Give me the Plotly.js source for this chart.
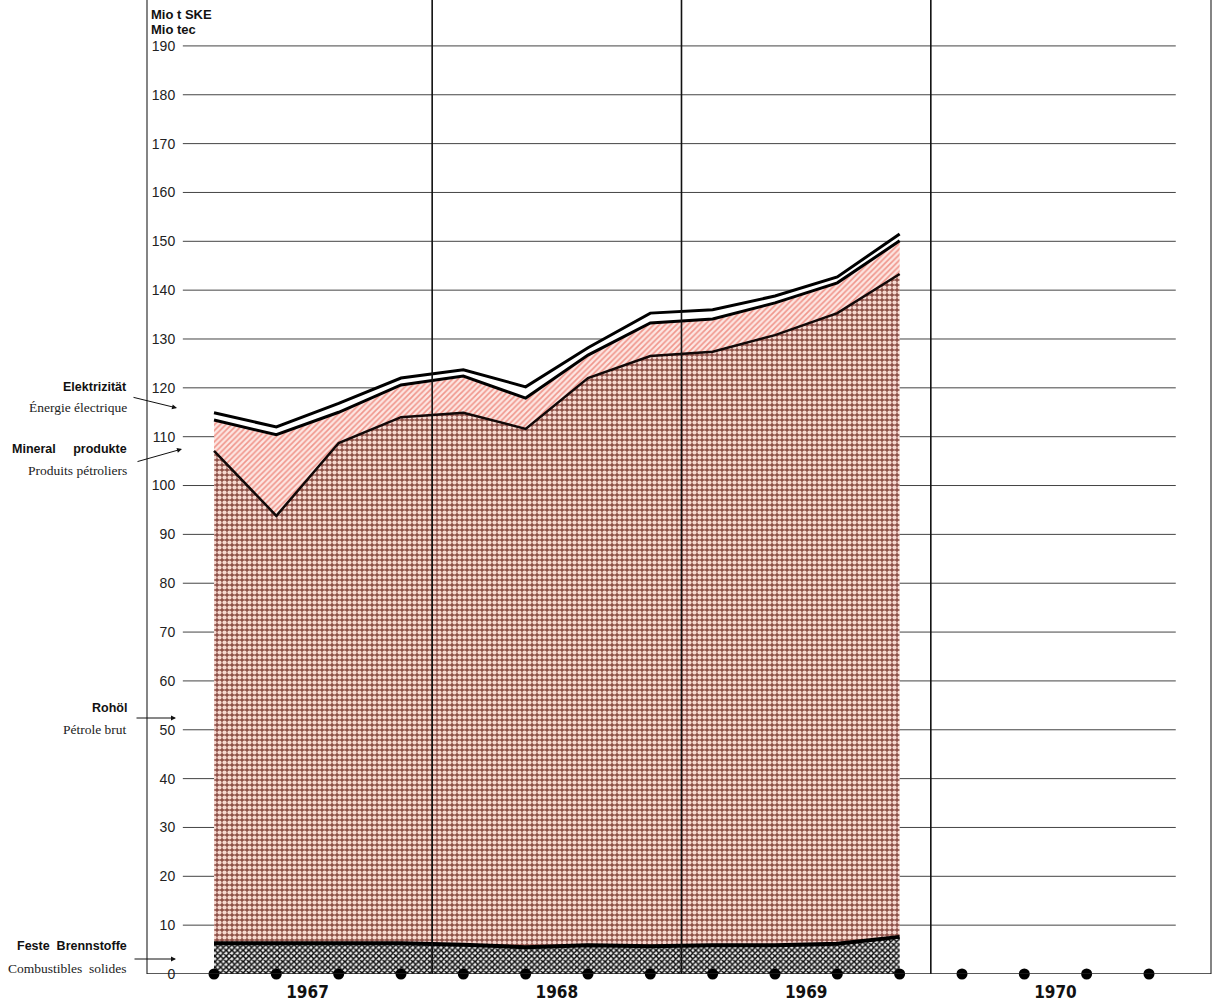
<!DOCTYPE html>
<html>
<head>
<meta charset="utf-8">
<script src="https://cdn.plot.ly/plotly-3.0.1.min.js"></script>
<style>
html,body{margin:0;padding:0;background:#fff;}
#chart{width:1217px;height:1007px;}
</style>
</head>
<body>
<div id="chart"></div>
<script>
// ---- data (Mio t SKE, quarterly) ----
var quarters = ['1967 I','1967 II','1967 III','1967 IV',
                '1968 I','1968 II','1968 III','1968 IV',
                '1969 I','1969 II','1969 III','1969 IV',
                '1970 I','1970 II','1970 III','1970 IV'];
var years = ['1967','1968','1969','1970'];
var solidFuels  = [6.3, 6.3, 6.1, 6.3, 6.0, 5.5, 5.9, 5.7, 5.9, 5.9, 6.2, 7.6];
var crudeOil    = [100.8, 87.5, 102.6, 107.7, 108.9, 106.1, 116.1, 120.8, 121.5, 124.9, 129.1, 135.7];
var mineralProd = [6.3, 16.6, 6.3, 6.6, 7.5, 6.3, 4.7, 6.8, 6.7, 6.6, 6.2, 6.8];
var electricity = [1.5, 1.6, 1.8, 1.4, 1.3, 2.3, 1.5, 2.0, 1.9, 1.4, 1.2, 1.4];
var yTicks = [0,10,20,30,40,50,60,70,80,90,100,110,120,130,140,150,160,170,180,190];

// ---- helpers ----
var qIdx = quarters.map(function(q,i){return i;});
var dataIdx = solidFuels.map(function(v,i){return i;});
var L = 147, W = 1064, H = 974;
function pxX(px){return (px - L)/W;}
function pxY(py){return (H - py)/H;}

var traces = [
  {x: dataIdx, y: solidFuels, type:'scatter', mode:'lines', stackgroup:'s',
   line:{color:'#000', width:4},
   fillpattern:{shape:'x', bgcolor:'#ececec', fgcolor:'#0d0d0d', size:4, solidity:0.6},
   hoverinfo:'skip'},
  {x: dataIdx, y: crudeOil, type:'scatter', mode:'lines', stackgroup:'s',
   line:{color:'#120808', width:2.5},
   fillpattern:{shape:'.', bgcolor:'#8e5048', fgcolor:'#f6d8d0', size:5, solidity:0.55},
   hoverinfo:'skip'},
  {x: dataIdx, y: mineralProd, type:'scatter', mode:'lines', stackgroup:'s',
   line:{color:'#000', width:3},
   fillpattern:{shape:'/', bgcolor:'#fde6e2', fgcolor:'#f0968c', size:4, solidity:0.4},
   hoverinfo:'skip'},
  {x: dataIdx, y: electricity, type:'scatter', mode:'lines', stackgroup:'s',
   line:{color:'#000', width:3}, fillcolor:'#ffffff',
   hoverinfo:'skip'},
  {x: qIdx, y: quarters.map(function(){return 0;}), type:'scatter', mode:'markers',
   marker:{color:'#000', size:11}, cliponaxis:false, hoverinfo:'skip'}
];

var shapes = [];
yTicks.forEach(function(v){
  if (v === 0) return;
  shapes.push({type:'line', xref:'x', yref:'y', x0:-0.5, x1:15.43, y0:v, y1:v,
               line:{color:'#444', width:1}, layer:'below'});
});
[3.5, 7.5, 11.5].forEach(function(xv){
  shapes.push({type:'line', xref:'x', yref:'paper', x0:xv, x1:xv, y0:0, y1:1,
               line:{color:'#111', width:1.6}, layer:'above'});
});
shapes.push({type:'line', xref:'paper', yref:'paper', x0:0, x1:0, y0:0, y1:1, line:{color:'#333', width:1.2}});
shapes.push({type:'line', xref:'paper', yref:'paper', x0:1, x1:1, y0:0, y1:1, line:{color:'#333', width:1.2}});
shapes.push({type:'line', xref:'paper', yref:'y', x0:0, x1:1, y0:0, y1:0, line:{color:'#222', width:1.4}, layer:'above'});

var sansB = {family:'Liberation Sans, Arial, sans-serif', size:12.5, color:'#111'};
var serif = {family:'Liberation Serif, Times New Roman, serif', size:13.5, color:'#222'};
function lbl(text, py, font){
  return {text:text, xref:'paper', yref:'paper', x:pxX(129), y:pxY(py),
          xanchor:'right', yanchor:'middle', showarrow:false, font:font};
}
function arrow(hx, hy, ax, ay){
  return {text:'', xref:'paper', yref:'paper', x:pxX(hx), y:pxY(hy), ax:ax, ay:ay,
          showarrow:true, arrowhead:2, arrowsize:1, arrowwidth:1, arrowcolor:'#111'};
}
var annotations = [
  {text:'<b>Mio t SKE</b>', xref:'paper', yref:'paper', x:pxX(149), y:pxY(14), xanchor:'left', yanchor:'middle',
   showarrow:false, font:{family:'Liberation Sans, Arial, sans-serif', size:13, color:'#111'}},
  {text:'<b>Mio tec</b>', xref:'paper', yref:'paper', x:pxX(149), y:pxY(30), xanchor:'left', yanchor:'middle',
   showarrow:false, font:{family:'Liberation Sans, Arial, sans-serif', size:13, color:'#111'}},
  lbl('<b>Elektrizität</b>', 387, sansB),
  lbl('Énergie électrique', 407, serif),
  lbl('<b>Mineral     produkte</b>', 449, sansB),
  lbl('Produits pétroliers', 470, serif),
  lbl('<b>Rohöl</b>', 708, sansB),
  lbl('Pétrole brut', 729, serif),
  lbl('<b>Feste  Brennstoffe</b>', 946, sansB),
  lbl('Combustibles  solides', 968, serif),
  arrow(177, 408, -45, -11),
  arrow(182, 449, -46, 13),
  arrow(176, 718, -41, 0),
  arrow(176, 959, -43, 0)
];

var layout = {
  width:1217, height:1007,
  margin:{l:L, r:6, t:0, b:33, pad:0},
  paper_bgcolor:'#fff', plot_bgcolor:'rgba(0,0,0,0)',
  showlegend:false, hovermode:false,
  xaxis:{range:[-1.075, 15.995], showgrid:false, zeroline:false, showline:false,
         tickvals:[1.5,5.5,9.5,13.5], ticktext:years.map(function(y){return '<b>'+y+'</b>';}),
         ticks:'', ticklabelstandoff:6,
         tickfont:{family:'Liberation Sans Narrow, DejaVu Sans Condensed, Arial Narrow, sans-serif', size:17, color:'#111'}},
  yaxis:{range:[0, 199.4], showgrid:false, zeroline:false, showline:false,
         anchor:'free', position:0.0265, tickvals:yTicks, ticks:'',
         tickfont:{family:'Liberation Sans, Arial, sans-serif', size:14, color:'#222'}},
  shapes:shapes, annotations:annotations
};
Plotly.newPlot('chart', traces, layout, {displayModeBar:false, staticPlot:true});
</script>
</body>
</html>
